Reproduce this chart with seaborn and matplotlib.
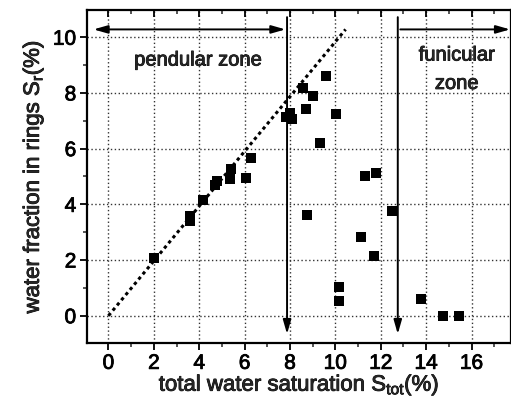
import matplotlib
matplotlib.use("Agg")
import matplotlib.pyplot as plt
import matplotlib.patheffects as pe
import seaborn as sns
import pandas as pd
from matplotlib.ticker import MultipleLocator

# --- data ---
s_tot = [2.02, 3.60, 3.60, 4.17, 4.68, 4.78, 5.37, 5.40, 6.08, 6.29,
         7.84, 8.02, 8.10, 8.59, 8.70, 9.03, 9.33, 9.58, 8.77, 10.02,
         10.17, 10.17, 11.13, 11.32, 11.80, 11.70, 12.51, 13.76, 14.73, 15.47]
s_r = [2.06, 3.41, 3.58, 4.17, 4.68, 4.82, 4.90, 5.26, 4.93, 5.65,
       7.12, 7.27, 7.05, 8.17, 7.41, 7.89, 6.19, 8.61, 3.60, 7.24,
       1.04, 0.54, 2.84, 5.02, 5.11, 2.14, 3.76, 0.61, 0.00, 0.00]
fit_x = [0.0, 10.45]
fit_y = [0.0, 10.28]
x_ticks = [0, 2, 4, 6, 8, 10, 12, 14, 16]
y_ticks = [0, 2, 4, 6, 8, 10]
pendular_limit = 7.87
funicular_limit = 12.75

df = pd.DataFrame({"S_tot": s_tot, "S_r": s_r})

sns.set_theme(style="ticks")
plt.rcParams["font.family"] = ["Liberation Sans", "DejaVu Sans"]
plt.rcParams["mathtext.fontset"] = "custom"
plt.rcParams["mathtext.rm"] = "Liberation Sans"
plt.rcParams["mathtext.it"] = "Liberation Sans"
plt.rcParams["mathtext.default"] = "regular"

heavy = [pe.withStroke(linewidth=0.6, foreground="black")]

fig = plt.figure(figsize=(5.11, 4.03), dpi=100)
ax = fig.add_axes([0.171, 0.1496, 0.829, 0.8244])

ax.set_xlim(-0.93, 17.74)
ax.set_ylim(-0.97, 10.96)

# grid
for xv in x_ticks:
    ax.axvline(xv, color="#333333", lw=1.0, ls=(0, (1, 1.8)), zorder=0)
for yv in y_ticks:
    ax.axhline(yv, color="#333333", lw=1.0, ls=(0, (1, 1.8)), zorder=0)

# dotted fit line
sns.lineplot(x=fit_x, y=fit_y, ax=ax, color="black", lw=2.2,
             linestyle=(0, (1.1, 1.1)), zorder=2)

# data squares
sns.scatterplot(data=df, x="S_tot", y="S_r", ax=ax, marker="s", s=50,
                color="black", edgecolor="black", linewidth=0, zorder=3)

# vertical zone boundaries with arrows
for xv in (pendular_limit, funicular_limit):
    ax.annotate("", xy=(xv, -0.66), xytext=(xv, 10.72),
                arrowprops=dict(arrowstyle="-|>,head_length=0.7,head_width=0.2",
                                color="black", lw=1.4, shrinkA=0, shrinkB=0))

# horizontal zone arrows
ax.annotate("", xy=(-0.66, 10.28), xytext=(7.8, 10.28),
            arrowprops=dict(arrowstyle="<|-|>,head_length=0.7,head_width=0.2",
                            color="black", lw=1.4, shrinkA=0, shrinkB=0))
ax.annotate("", xy=(17.7, 10.28), xytext=(12.86, 10.28),
            arrowprops=dict(arrowstyle="-|>,head_length=0.7,head_width=0.2",
                            color="black", lw=1.4, shrinkA=0, shrinkB=0))

for tx, ty, s in [(3.95, 9.18, "pendular zone"), (15.35, 9.36, "funicular"),
                  (15.35, 8.34, "zone")]:
    ax.text(tx, ty, s, ha="center", va="center", fontsize=14.5, path_effects=heavy)

# ticks
ax.set_xticks(x_ticks)
ax.set_yticks(y_ticks)
ax.xaxis.set_minor_locator(MultipleLocator(1))
ax.yaxis.set_minor_locator(MultipleLocator(1))
ax.tick_params(axis="both", which="major", direction="out", length=5, width=1.3,
               labelsize=15, colors="black", pad=3)
ax.tick_params(axis="both", which="minor", direction="out", length=3, width=1.1)
ax.tick_params(axis="x", which="both", bottom=True, top=True)
ax.tick_params(axis="y", right=True, which="major")
for tl in ax.xaxis.get_ticklines(minor=False)[1::2] + ax.xaxis.get_ticklines(minor=True)[1::2]:
    tl.set_marker(matplotlib.lines.TICKDOWN)

for lab in ax.get_xticklabels() + ax.get_yticklabels():
    lab.set_path_effects(heavy)

for sp in ax.spines.values():
    sp.set_visible(True)
    sp.set_linewidth(1.6)
    sp.set_color("black")

ax.set_xlabel(r"total water saturation S$_{tot}$(%)", fontsize=16, labelpad=0,
              path_effects=heavy)
ax.set_ylabel(r"water fraction in rings S$_{r}$(%)", fontsize=16, labelpad=5,
              path_effects=heavy)

fig.savefig("out.png", dpi=100)
